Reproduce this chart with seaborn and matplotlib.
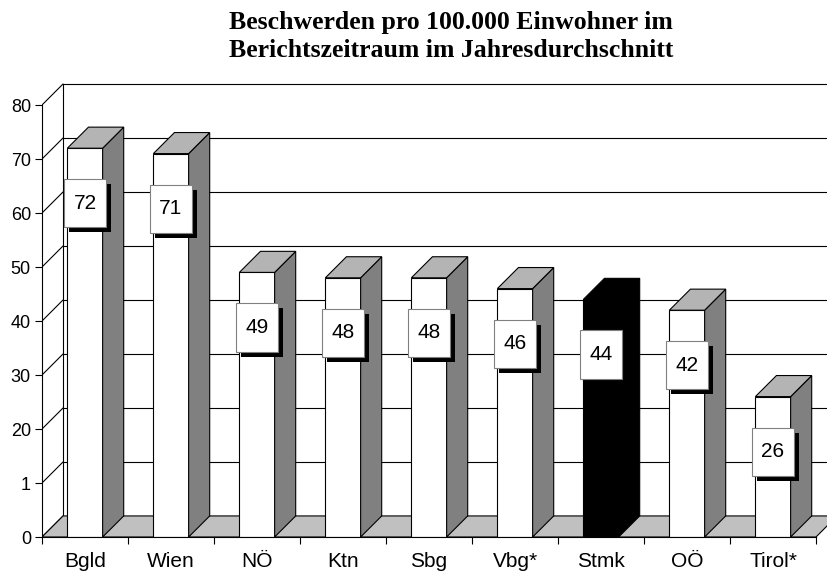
import numpy as np
import matplotlib.pyplot as plt
import seaborn as sns
from matplotlib.patches import Polygon, Rectangle

# Daten
regions = ["Bgld", "Wien", "NÖ", "Ktn", "Sbg", "Vbg*", "Stmk", "OÖ", "Tirol*"]
values = [72, 71, 49, 48, 48, 46, 44, 42, 26]
highlight = "Stmk"
y_ticks = [0, 10, 20, 30, 40, 50, 60, 70, 80]
y_tick_labels = ["0", "1", "20", "30", "40", "50", "60", "70", "80"]
title_lines = ["Beschwerden pro 100.000 Einwohner im",
               "Berichtszeitraum im Jahresdurchschnitt"]

sns.set_theme(style="ticks")
plt.rcParams["font.family"] = ["Liberation Sans", "DejaVu Sans"]
plt.rcParams["text.color"] = "black"
plt.rcParams["xtick.labelcolor"] = "black"
plt.rcParams["ytick.labelcolor"] = "black"

fig = plt.figure(figsize=(8.28, 5.74), dpi=100)
ax = fig.add_axes([42 / 828, 37 / 574, 786 / 828, 459 / 574])

n = len(regions)
dx, dy = 0.245, 3.9  # Tiefe (3D-Effekt)
lw = 0.8

# Balken (Vorderseite)
sns.barplot(x=regions, y=values, width=0.41, color="white", saturation=1,
            edgecolor="black", linewidth=lw, ax=ax, zorder=2)
ax.set_xlim(-0.5, -0.5 + 786 / 86)
ax.set_ylim(0, 85)

# Boden
ax.add_patch(Polygon([(-0.5, 0), (n - 0.5, 0), (n - 0.5 + dx, dy), (-0.5 + dx, dy)],
                     facecolor="#c0c0c0", edgecolor="black", lw=lw, zorder=1))

# Rückwand + linke Wand
for t in y_ticks[1:]:
    ax.plot([-0.5 + dx, n - 0.5 + dx], [t + dy, t + dy], color="black", lw=lw, zorder=0.5)
for t in y_ticks:
    ax.plot([-0.5, -0.5 + dx], [t, t + dy], color="black", lw=lw, zorder=0.5)
ax.plot([-0.5 + dx] * 2, [dy, 80 + dy], color="black", lw=lw, zorder=0.5)

# Seiten und Deckflächen der Balken
bars = ax.containers[0].patches
for p, reg, v in zip(bars, regions, values):
    x0, w, h = p.get_x(), p.get_width(), p.get_height()
    if reg == highlight:
        p.set_facecolor("black")
        side_c, top_c = "black", "black"
    else:
        side_c, top_c = "#808080", "#b4b4b4"
    ax.add_patch(Polygon([(x0 + w, 0), (x0 + w + dx, dy), (x0 + w + dx, h + dy), (x0 + w, h)],
                         facecolor=side_c, edgecolor="black", lw=lw, zorder=2))
    ax.add_patch(Polygon([(x0, h), (x0 + w, h), (x0 + w + dx, h + dy), (x0 + dx, h + dy)],
                         facecolor=top_c, edgecolor="black", lw=lw, zorder=2))

    # Beschriftungsbox mit Schatten
    cx, cy = x0 + w / 2, h - 10.2
    bw, bh = 0.49, 8.9
    ax.add_patch(Rectangle((cx - bw / 2 + 0.058, cy - bh / 2 - 0.93), bw, bh,
                           facecolor="black", edgecolor="none", zorder=3))
    ax.add_patch(Rectangle((cx - bw / 2, cy - bh / 2), bw, bh,
                           facecolor="white", edgecolor="#808080", lw=0.8, zorder=4))
    ax.text(cx, cy, f"{v}", ha="center", va="center", fontsize=15, color="black", zorder=5)

# Achsen
for s in ["top", "right"]:
    ax.spines[s].set_visible(False)
ax.spines["left"].set_bounds(0, 80)
ax.spines["bottom"].set_bounds(-0.5, n - 0.5)
for s in ["left", "bottom"]:
    ax.spines[s].set_color("black")
    ax.spines[s].set_linewidth(lw)
    ax.spines[s].set_zorder(6)

ax.set_yticks(y_ticks, y_tick_labels)
ax.tick_params(axis="y", length=5, width=lw, color="black", labelsize=13, pad=3)
ax.set_xticks(np.arange(n), regions)
ax.set_xticks(np.arange(n + 1) - 0.5, minor=True)
ax.tick_params(axis="x", which="major", length=0, labelsize=15, pad=11)
ax.tick_params(axis="x", which="minor", length=5, width=lw, color="black")
ax.set_xlabel("")
ax.set_ylabel("")

# Titel
for i, line in enumerate(title_lines):
    fig.text(451 / 828, 1 - (29 + 28 * i) / 574, line, ha="center", va="baseline",
             family=["Liberation Serif", "DejaVu Serif"], fontweight="bold", fontsize=18.5)

fig.savefig("out.png", dpi=100)
